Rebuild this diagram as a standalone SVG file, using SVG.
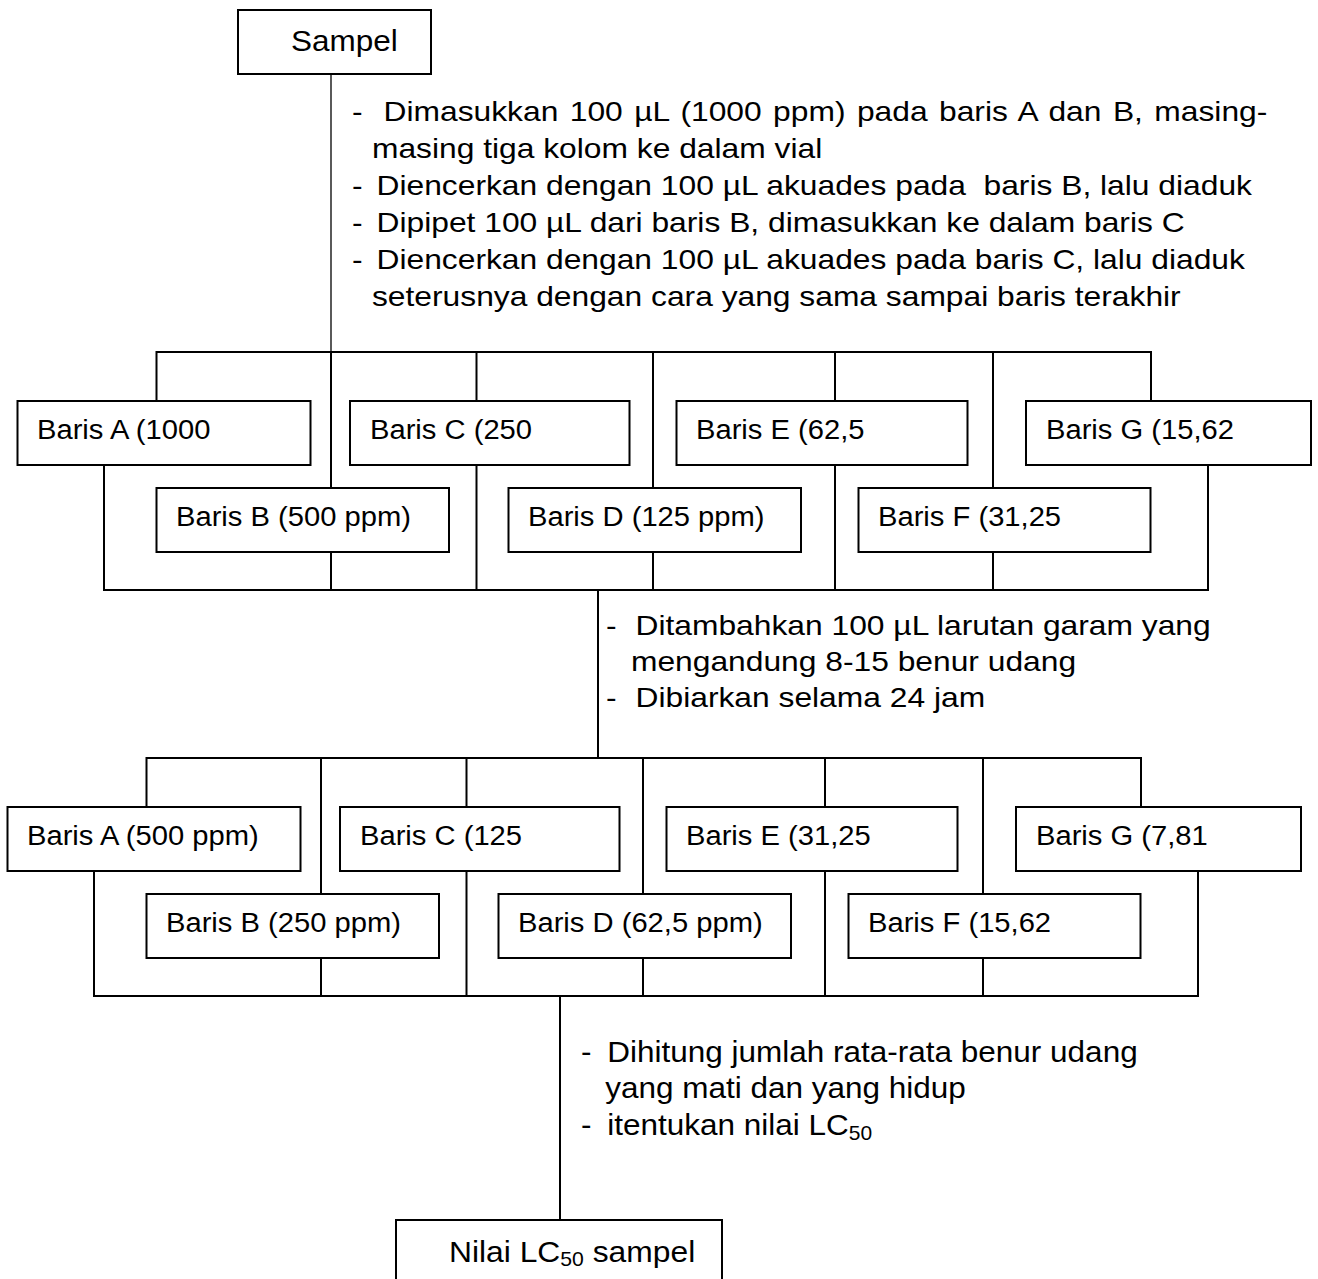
<svg xmlns="http://www.w3.org/2000/svg" width="1318" height="1279" viewBox="0 0 1318 1279">
  <style>
    .box { fill: #fff; stroke: #000; stroke-width: 2; }
    .wire { fill: none; stroke: #000; stroke-width: 2; }
    .thin { fill: none; stroke: #000; stroke-width: 1.3; }
    text { font-family: "Liberation Sans", Arial, sans-serif; fill: #000; white-space: pre; }
    .lbl { font-size: 27px; }
    .note { font-size: 28px; }
    .end { font-size: 30px; }
    .sub { font-size: 20px; }
  </style>

  <!-- connectors -->
  <g id="connectors">
    <!-- Sampel down to the first split -->
    <line class="thin" x1="331" y1="74" x2="331" y2="352"/>
    <!-- first dilution row: top bus and drops -->
    <polyline class="wire" points="156.5,401 156.5,352 1151,352 1151,401"/>
    <line class="wire" x1="331" y1="352" x2="331" y2="488"/>
    <line class="wire" x1="476.5" y1="352" x2="476.5" y2="401"/>
    <line class="wire" x1="653" y1="352" x2="653" y2="488"/>
    <line class="wire" x1="835" y1="352" x2="835" y2="401"/>
    <line class="wire" x1="993" y1="352" x2="993" y2="488"/>
    <!-- first dilution row: bottom bus and risers -->
    <polyline class="wire" points="104,465 104,590 1208,590 1208,465"/>
    <line class="wire" x1="331" y1="552" x2="331" y2="590"/>
    <line class="wire" x1="476.5" y1="465" x2="476.5" y2="590"/>
    <line class="wire" x1="653" y1="552" x2="653" y2="590"/>
    <line class="wire" x1="835" y1="465" x2="835" y2="590"/>
    <line class="wire" x1="993" y1="552" x2="993" y2="590"/>
    <!-- link to the second row -->
    <line class="wire" x1="598" y1="590" x2="598" y2="758"/>
    <!-- second row: top bus and drops -->
    <polyline class="wire" points="146.5,807 146.5,758 1141,758 1141,807"/>
    <line class="wire" x1="321" y1="758" x2="321" y2="894"/>
    <line class="wire" x1="466.5" y1="758" x2="466.5" y2="807"/>
    <line class="wire" x1="643" y1="758" x2="643" y2="894"/>
    <line class="wire" x1="825" y1="758" x2="825" y2="807"/>
    <line class="wire" x1="983" y1="758" x2="983" y2="894"/>
    <!-- second row: bottom bus and risers -->
    <polyline class="wire" points="94,871 94,996 1198,996 1198,871"/>
    <line class="wire" x1="321" y1="958" x2="321" y2="996"/>
    <line class="wire" x1="466.5" y1="871" x2="466.5" y2="996"/>
    <line class="wire" x1="643" y1="958" x2="643" y2="996"/>
    <line class="wire" x1="825" y1="871" x2="825" y2="996"/>
    <line class="wire" x1="983" y1="958" x2="983" y2="996"/>
    <!-- down to the result -->
    <line class="wire" x1="560" y1="996" x2="560" y2="1220"/>
  </g>

  <!-- start node -->
  <g id="sampel">
    <rect class="box" x="238" y="10" width="193" height="64"/>
    <text class="end" transform="translate(291,51) scale(1.05,1)">Sampel</text>
  </g>

  <!-- procedure notes -->
  <g id="step-dilution" class="note" transform="translate(352,0) scale(1.135,1)">
    <text x="0" y="121">-</text>
    <text x="27.8" y="121" word-spacing="2.3">Dimasukkan 100 µL (1000 ppm) pada baris A dan B, masing-</text>
    <text x="17.6" y="158">masing tiga kolom ke dalam vial</text>
    <text x="0" y="195">-</text>
    <text x="21.6" y="195">Diencerkan dengan 100 µL akuades pada  baris B, lalu diaduk</text>
    <text x="0" y="232">-</text>
    <text x="21.6" y="232">Dipipet 100 µL dari baris B, dimasukkan ke dalam baris C</text>
    <text x="0" y="269">-</text>
    <text x="21.6" y="269">Diencerkan dengan 100 µL akuades pada baris C, lalu diaduk</text>
    <text x="17.6" y="306">seterusnya dengan cara yang sama sampai baris terakhir</text>
  </g>

  <!-- first row of dilutions -->
  <g id="r1-a"><rect class="box" x="17.5" y="401" width="293" height="64"/><text class="lbl" transform="translate(37,439) scale(1.08,1)">Baris A (1000</text></g>
  <g id="r1-b"><rect class="box" x="156.5" y="488" width="292.5" height="64"/><text class="lbl" transform="translate(176,526) scale(1.08,1)">Baris B (500 ppm)</text></g>
  <g id="r1-c"><rect class="box" x="350" y="401" width="279.5" height="64"/><text class="lbl" transform="translate(370,439) scale(1.08,1)">Baris C (250</text></g>
  <g id="r1-d"><rect class="box" x="508.5" y="488" width="292.5" height="64"/><text class="lbl" transform="translate(528,526) scale(1.08,1)">Baris D (125 ppm)</text></g>
  <g id="r1-e"><rect class="box" x="676.5" y="401" width="291" height="64"/><text class="lbl" transform="translate(696,439) scale(1.08,1)">Baris E (62,5</text></g>
  <g id="r1-f"><rect class="box" x="858.5" y="488" width="292" height="64"/><text class="lbl" transform="translate(878,526) scale(1.08,1)">Baris F (31,25</text></g>
  <g id="r1-g"><rect class="box" x="1026" y="401" width="285" height="64"/><text class="lbl" transform="translate(1046,439) scale(1.08,1)">Baris G (15,62</text></g>

  <g id="step-shrimp" class="note" transform="translate(606,0) scale(1.135,1)">
    <text x="0" y="635">-</text>
    <text x="26" y="635">Ditambahkan 100 µL larutan garam yang</text>
    <text x="22" y="671">mengandung 8-15 benur udang</text>
    <text x="0" y="707">-</text>
    <text x="26" y="707">Dibiarkan selama 24 jam</text>
  </g>

  <!-- second row of dilutions -->
  <g id="r2-a"><rect class="box" x="7.5" y="807" width="293" height="64"/><text class="lbl" transform="translate(27,845) scale(1.08,1)">Baris A (500 ppm)</text></g>
  <g id="r2-b"><rect class="box" x="146.5" y="894" width="292.5" height="64"/><text class="lbl" transform="translate(166,932) scale(1.08,1)">Baris B (250 ppm)</text></g>
  <g id="r2-c"><rect class="box" x="340" y="807" width="279.5" height="64"/><text class="lbl" transform="translate(360,845) scale(1.08,1)">Baris C (125</text></g>
  <g id="r2-d"><rect class="box" x="498.5" y="894" width="292.5" height="64"/><text class="lbl" transform="translate(518,932) scale(1.08,1)">Baris D (62,5 ppm)</text></g>
  <g id="r2-e"><rect class="box" x="666.5" y="807" width="291" height="64"/><text class="lbl" transform="translate(686,845) scale(1.08,1)">Baris E (31,25</text></g>
  <g id="r2-f"><rect class="box" x="848.5" y="894" width="292" height="64"/><text class="lbl" transform="translate(868,932) scale(1.08,1)">Baris F (15,62</text></g>
  <g id="r2-g"><rect class="box" x="1016" y="807" width="285" height="64"/><text class="lbl" transform="translate(1036,845) scale(1.08,1)">Baris G (7,81</text></g>

  <g id="step-count" class="end" transform="translate(581,0) scale(1.05,1)">
    <text x="0" y="1062">-</text>
    <text x="25" y="1062">Dihitung jumlah rata-rata benur udang</text>
    <text x="23" y="1098">yang mati dan yang hidup</text>
    <text x="0" y="1135">-</text>
    <text x="25" y="1135">itentukan nilai LC<tspan class="sub" dy="5">50</tspan></text>
  </g>

  <!-- result node -->
  <g id="nilai-lc50">
    <rect class="box" x="396" y="1220" width="326" height="80"/>
    <text class="end" transform="translate(449,1262) scale(1.06,1)">Nilai LC<tspan class="sub" dy="4">50</tspan><tspan dy="-4"> sampel</tspan></text>
  </g>
</svg>
